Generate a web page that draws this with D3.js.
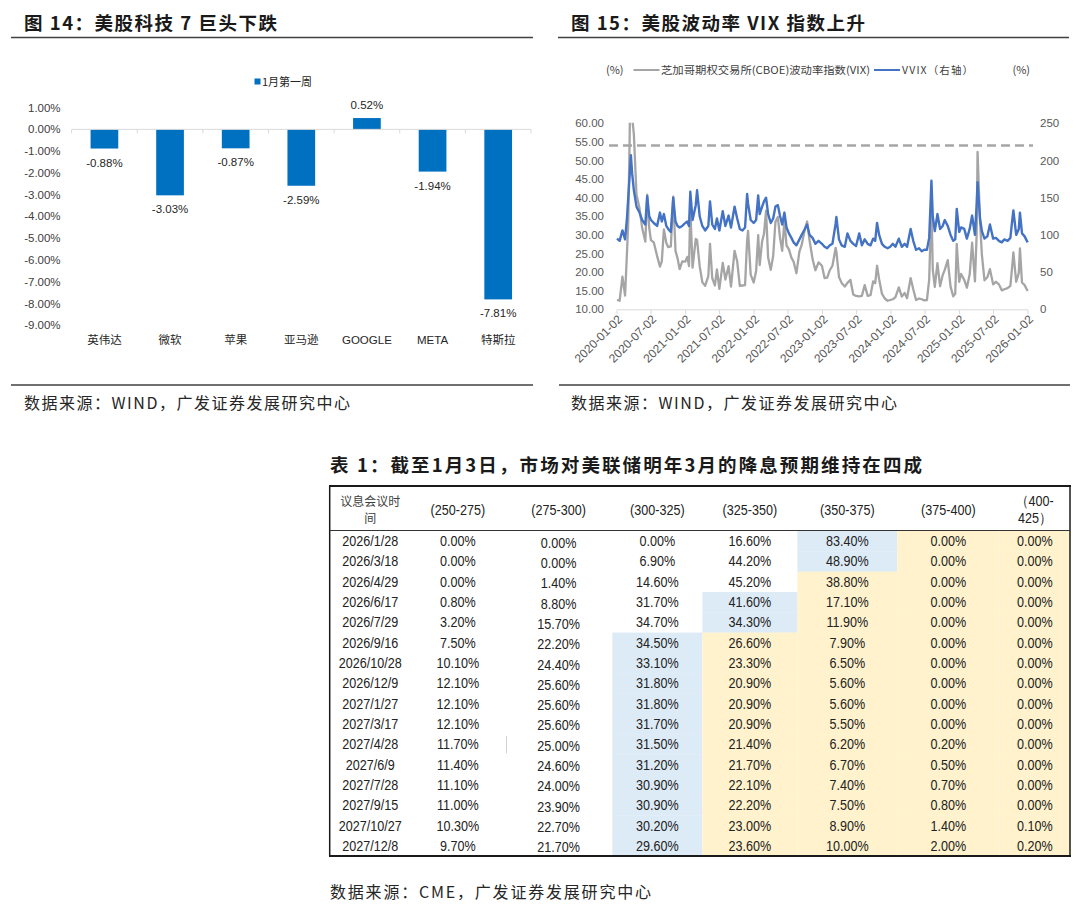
<!DOCTYPE html>
<html><head><meta charset="utf-8">
<script src="https://cdn.jsdelivr.net/npm/d3@7"></script>
<style>html,body{margin:0;padding:0;background:#fff}svg{display:block}</style>
</head><body>
<svg id="c" width="1080" height="922"></svg>
<script>
// ---------------- DATA ----------------
// Figure 14
const barCategories = ["英伟达","微软","苹果","亚马逊","GOOGLE","META","特斯拉"];
const barValues = [-0.88,-3.03,-0.87,-2.59,0.52,-1.94,-7.81];
const barSeriesName = "1月第一周";
const barTicks = [1,0,-1,-2,-3,-4,-5,-6,-7,-8,-9];

// Figure 15
const vixDates = [
"2020-01-02","2020-01-16","2020-01-31","2020-02-14","2020-02-24","2020-03-02","2020-03-09","2020-03-16","2020-03-23","2020-04-01","2020-04-15","2020-05-01","2020-05-15","2020-06-01","2020-06-11","2020-06-22","2020-07-01","2020-07-16","2020-08-03","2020-08-18","2020-08-28","2020-09-08","2020-09-21","2020-10-01","2020-10-15","2020-10-28","2020-11-09","2020-11-20","2020-12-01","2020-12-15","2020-12-31",
"2021-01-11","2021-01-20","2021-01-27","2021-02-08","2021-02-25","2021-03-04","2021-03-18","2021-04-01","2021-04-16","2021-05-03","2021-05-12","2021-05-24","2021-06-07","2021-06-18","2021-07-01","2021-07-19","2021-08-02","2021-08-19","2021-09-01","2021-09-20","2021-10-04","2021-10-18","2021-11-01","2021-11-15","2021-11-26","2021-12-01","2021-12-15","2021-12-31",
"2022-01-13","2022-01-24","2022-02-01","2022-02-14","2022-02-24","2022-03-07","2022-03-18","2022-04-01","2022-04-14","2022-04-26","2022-05-09","2022-05-20","2022-06-01","2022-06-13","2022-06-24","2022-07-07","2022-07-20","2022-08-01","2022-08-16","2022-09-01","2022-09-13","2022-09-30","2022-10-12","2022-10-25","2022-11-10","2022-11-25","2022-12-12","2022-12-30",
"2023-01-13","2023-01-27","2023-02-10","2023-02-24","2023-03-13","2023-03-17","2023-03-31","2023-04-14","2023-05-01","2023-05-15","2023-05-31","2023-06-15","2023-06-30","2023-07-17","2023-07-31","2023-08-15","2023-08-31","2023-09-15","2023-09-29","2023-10-10","2023-10-20","2023-10-31","2023-11-15","2023-11-30","2023-12-15","2023-12-29",
"2024-01-12","2024-01-26","2024-02-13","2024-02-29","2024-03-15","2024-03-28","2024-04-16","2024-04-30","2024-05-15","2024-05-31","2024-06-14","2024-06-28","2024-07-12","2024-07-24","2024-08-05","2024-08-12","2024-08-23","2024-09-06","2024-09-20","2024-10-04","2024-10-15","2024-10-31","2024-11-15","2024-11-29","2024-12-10","2024-12-18","2024-12-31",
"2025-01-10","2025-01-27","2025-02-10","2025-02-25","2025-03-10","2025-03-25","2025-04-03","2025-04-08","2025-04-21","2025-05-01","2025-05-15","2025-05-30","2025-06-13","2025-06-30","2025-07-15","2025-07-31","2025-08-15","2025-08-29","2025-09-15","2025-09-30","2025-10-10","2025-10-16","2025-10-31","2025-11-14","2025-11-20","2025-12-01","2025-12-15","2025-12-31"
];
const vixValues = [
12.5,12.3,18.8,13.7,25.0,33.4,54.5,82.7,61.6,57.0,40.8,37.2,31.9,28.2,40.8,31.8,28.6,28.0,24.3,21.5,22.9,31.5,27.8,26.7,26.9,40.3,25.7,23.7,20.8,22.9,22.8,
24.1,21.6,37.2,21.2,28.9,28.6,21.6,17.3,16.3,18.9,27.6,18.4,16.4,20.7,15.5,22.5,18.0,21.6,16.1,25.7,22.9,16.3,16.4,16.5,28.6,31.1,19.3,17.2,
20.3,29.9,21.9,28.3,30.3,36.5,23.9,20.6,24.4,33.5,34.8,29.4,25.7,34.0,27.2,26.1,23.9,22.8,19.7,25.6,27.3,31.6,33.6,28.5,23.5,20.5,22.6,21.7,
18.4,18.5,20.5,21.7,26.5,25.5,18.7,17.1,16.1,17.1,17.9,14.0,13.6,13.5,13.6,16.5,13.6,13.8,17.5,17.0,21.7,18.1,14.2,12.9,12.3,12.5,
12.7,13.3,15.9,13.4,14.4,13.0,18.4,15.4,12.5,12.9,12.7,12.4,12.5,18.0,38.6,20.7,16.0,22.4,16.2,19.2,20.6,23.2,16.1,13.5,14.2,27.6,17.4,
19.5,17.9,15.8,19.4,27.9,17.5,30.0,52.3,33.8,24.7,17.8,18.6,20.8,16.7,17.4,16.7,15.1,15.4,15.7,16.3,21.7,25.3,17.4,19.8,26.4,17.2,16.5,14.9
];
const vvixValues = [
95,92,106,94,122,150,178,207,182,160,138,130,120,114,152,125,120,116,112,130,118,128,112,108,104,150,118,112,110,112,116,
118,112,158,120,140,160,125,112,106,112,145,114,108,122,106,132,112,126,110,138,122,108,106,110,155,142,120,116,
120,153,128,138,145,150,128,116,122,138,140,126,114,130,110,102,96,90,86,94,100,108,114,100,96,88,92,88,
84,82,86,88,115,124,94,86,84,102,92,88,85,102,86,94,88,86,95,92,116,100,88,84,82,84,
88,84,95,84,88,84,108,92,80,82,78,80,80,96,173,125,105,128,108,112,120,112,100,92,94,135,104,
110,108,95,108,126,100,140,171,122,105,95,98,114,95,96,92,90,94,92,96,120,133,100,108,130,102,98,90
];
const vixTickDates = ["2020-01-02","2020-07-02","2021-01-02","2021-07-02","2022-01-02","2022-07-02","2023-01-02","2023-07-02","2024-01-02","2024-07-02","2025-01-02","2025-07-02","2026-01-02"];
const vixLeftTicks = [10,15,20,25,30,35,40,45,50,55,60];
const vvixRightTicks = [0,50,100,150,200,250];
const vvixRefLevel = 220;
const vixSeriesName = "芝加哥期权交易所(CBOE)波动率指数(VIX)";
const vvixSeriesName = "VVIX（右轴）";

// Table 1
const meetingDates = ["2026/1/28","2026/3/18","2026/4/29","2026/6/17","2026/7/29","2026/9/16","2026/10/28","2026/12/9","2027/1/27","2027/3/17","2027/4/28","2027/6/9","2027/7/28","2027/9/15","2027/10/27","2027/12/8"];
const rateBuckets = ["(250-275)","(275-300)","(300-325)","(325-350)","(350-375)","(375-400)","（400-425）"];
const cutProbabilities = [
[0.00,0.00,0.00,16.60,83.40,0.00,0.00],
[0.00,0.00,6.90,44.20,48.90,0.00,0.00],
[0.00,1.40,14.60,45.20,38.80,0.00,0.00],
[0.80,8.80,31.70,41.60,17.10,0.00,0.00],
[3.20,15.70,34.70,34.30,11.90,0.00,0.00],
[7.50,22.20,34.50,26.60,7.90,0.00,0.00],
[10.10,24.40,33.10,23.30,6.50,0.00,0.00],
[12.10,25.60,31.80,20.90,5.60,0.00,0.00],
[12.10,25.60,31.80,20.90,5.60,0.00,0.00],
[12.10,25.60,31.70,20.90,5.50,0.00,0.00],
[11.70,25.00,31.50,21.40,6.20,0.20,0.00],
[11.40,24.60,31.20,21.70,6.70,0.50,0.00],
[11.10,24.00,30.90,22.10,7.40,0.70,0.00],
[11.00,23.90,30.90,22.20,7.50,0.80,0.00],
[10.30,22.70,30.20,23.00,8.90,1.40,0.10],
[9.70,21.70,29.60,23.60,10.00,2.00,0.20]
];
const blueBucket = [4,4,-1,3,3,2,2,2,2,2,2,2,2,2,2,2];
const firstYellowBucket = [5,5,4,4,4,3,3,3,3,3,3,3,3,3,3,3];
const tableHeadFirst = "议息会议时间";

// ---------------- DRAWING ----------------
const svg = d3.select("#c");
svg.append("rect").attr("width",1080).attr("height",922).attr("fill","#fff");
const CJK = "'Noto Sans CJK SC','Noto Sans CJK JP',sans-serif";
const LAT = "'Liberation Sans',Arial,'Noto Sans',sans-serif";
const loc = d3.formatLocale({decimal:".",thousands:",",grouping:[3],currency:["",""],minus:"-"});
const f2 = loc.format(".2f");

function bigTitle(x,y,text,len,size){
  svg.append("text").attr("x",x).attr("y",y).attr("font-family",CJK).attr("font-weight",700)
    .attr("font-size",size).attr("fill","#1a1a1a").attr("textLength",len).attr("lengthAdjust","spacing").text(text);
}
function hline(x1,x2,y,w,c){
  svg.append("line").attr("x1",x1).attr("x2",x2).attr("y1",y).attr("y2",y).attr("stroke",c).attr("stroke-width",w);
}
function footer(x,y,text,len){
  svg.append("text").attr("x",x).attr("y",y).attr("font-family",CJK).attr("font-size",16)
    .attr("fill","#262626").attr("textLength",len).attr("lengthAdjust","spacing").text(text);
}
// condensed table text (narrow look via horizontal scale)
function narrowText(g,x,y,text,size){
  g.append("text").attr("transform",`translate(${x},${y}) scale(0.84,1)`).attr("text-anchor","middle")
    .attr("font-family",LAT).attr("font-size",size).attr("fill","#222").text(text);
}

// ===== Figure 14 =====
bigTitle(24,30,"图 14：美股科技 7 巨头下跌",253,18.5);
hline(11,533,37.5,1.5,"#404040");
hline(11,533,385,1.5,"#404040");
footer(24,409,"数据来源：WIND，广发证券发展研究中心",326);

const bx = d3.scaleBand().domain(barCategories).range([71.6,531]).paddingInner(0.578).paddingOuter(0.289);
const by = d3.scaleLinear().domain([-9,1]).range([325.3,107.6]);
const g14 = svg.append("g");
g14.append("rect").attr("x",254.5).attr("y",78.5).attr("width",6).attr("height",6).attr("fill","#0070c0");
g14.append("text").attr("x",262).attr("y",85.5).attr("font-family",CJK).attr("font-size",11).attr("fill","#262626").text(barSeriesName);
g14.selectAll(".yl").data(barTicks).join("text")
  .attr("x",60.6).attr("y",d=>by(d)+4).attr("text-anchor","end")
  .attr("font-family",LAT).attr("font-size",11.5).attr("fill","#404040").text(d=>f2(d)+"%");
g14.selectAll(".bar").data(barValues).join("rect")
  .attr("x",(d,i)=>bx(barCategories[i])).attr("width",bx.bandwidth())
  .attr("y",d=>by(Math.max(0,d))).attr("height",d=>Math.abs(by(d)-by(0)))
  .attr("fill","#0070c0");
hline(71.6,531,by(0),1,"#d9d9d9");
d3.range(barCategories.length+1).forEach(i=>{
  const x = bx.range()[0]+i*bx.step();
  g14.append("line").attr("x1",x).attr("x2",x).attr("y1",by(0)).attr("y2",by(0)+4).attr("stroke","#d9d9d9");
});
g14.selectAll(".vl").data(barValues).join("text")
  .attr("x",(d,i)=>bx(barCategories[i])+bx.bandwidth()/2)
  .attr("y",d=>d<0?by(d)+18:by(d)-9).attr("text-anchor","middle")
  .attr("font-family",LAT).attr("font-size",11.5).attr("fill","#262626").text(d=>f2(d)+"%");
g14.selectAll(".cl").data(barCategories).join("text")
  .attr("x",d=>bx(d)+bx.bandwidth()/2).attr("y",343.5).attr("text-anchor","middle")
  .attr("font-family",d=>/^[A-Z]/.test(d)?LAT:CJK).attr("font-size",11.5).attr("fill","#262626").text(d=>d);

// ===== Figure 15 =====
bigTitle(571,30,"图 15：美股波动率 VIX 指数上升",294,18.5);
hline(558,1069,37.5,1.5,"#404040");
hline(559,1070,385,1.5,"#404040");
footer(571,409,"数据来源：WIND，广发证券发展研究中心",326);

const parse = d3.utcParse("%Y-%m-%d");
const xT = d3.scaleUtc().domain([parse(vixTickDates[0]),parse(vixTickDates[vixTickDates.length-1])]).range([617,1028]);
const yL = d3.scaleLinear().domain([10,60]).range([309.3,123.3]);
const yR = d3.scaleLinear().domain([0,250]).range([309.3,123.3]);
const g15 = svg.append("g");
const lgY = 70;
g15.append("text").attr("x",606).attr("y",lgY+4).attr("font-family",CJK).attr("font-size",11).attr("fill","#404040").text("(%)");
g15.append("line").attr("x1",633.5).attr("x2",659.5).attr("y1",lgY).attr("y2",lgY).attr("stroke","#a5a5a5").attr("stroke-width",2);
g15.append("text").attr("x",661).attr("y",lgY+4).attr("font-family",CJK).attr("font-size",10.5).attr("fill","#404040")
  .attr("textLength",209).attr("lengthAdjust","spacingAndGlyphs").text(vixSeriesName);
g15.append("line").attr("x1",874).attr("x2",900).attr("y1",lgY).attr("y2",lgY).attr("stroke","#4472c4").attr("stroke-width",2);
g15.append("text").attr("x",902).attr("y",lgY+4).attr("font-family",CJK).attr("font-size",10.5).attr("fill","#404040")
  .attr("textLength",71).attr("lengthAdjust","spacing").text(vvixSeriesName);
g15.append("text").attr("x",1012.5).attr("y",lgY+4).attr("font-family",CJK).attr("font-size",11).attr("fill","#404040").text("(%)");
g15.selectAll(".ll").data(vixLeftTicks).join("text").attr("x",604).attr("y",d=>yL(d)+4).attr("text-anchor","end")
  .attr("font-family",LAT).attr("font-size",11.5).attr("fill","#595959").text(d=>f2(d));
g15.selectAll(".rl").data(vvixRightTicks).join("text").attr("x",1040).attr("y",d=>yR(d)+4)
  .attr("font-family",LAT).attr("font-size",11.5).attr("fill","#595959").text(d=>d);
g15.append("line").attr("x1",xT.range()[0]-8).attr("x2",xT.range()[1]+5).attr("y1",yR(vvixRefLevel)).attr("y2",yR(vvixRefLevel))
  .attr("stroke","#a6a6a6").attr("stroke-width",2.5).attr("stroke-dasharray","9,5");
svg.append("defs").append("clipPath").attr("id","pc").append("rect")
  .attr("x",xT.range()[0]-2).attr("y",yL(60)-0.5).attr("width",xT.range()[1]-xT.range()[0]+4).attr("height",yL(10)-yL(60)+1);
const pts = vixDates.map((d,i)=>({t:parse(d),v:vixValues[i],w:vvixValues[i]}));
g15.append("path").datum(pts).attr("clip-path","url(#pc)").attr("fill","none").attr("stroke","#a5a5a5").attr("stroke-width",2.3)
  .attr("stroke-linejoin","round").attr("d",d3.line().x(d=>xT(d.t)).y(d=>yL(d.v)));
g15.append("path").datum(pts).attr("clip-path","url(#pc)").attr("fill","none").attr("stroke","#4472c4").attr("stroke-width",2.4)
  .attr("stroke-linejoin","round").attr("d",d3.line().x(d=>xT(d.t)).y(d=>yR(d.w)));
hline(xT.range()[0],xT.range()[1],309.8,1,"#d9d9d9");
vixTickDates.forEach(s=>{
  const x = xT(parse(s));
  g15.append("line").attr("x1",x).attr("x2",x).attr("y1",309.8).attr("y2",314).attr("stroke","#d9d9d9");
  g15.append("text").attr("transform",`translate(${x+3},${317}) rotate(-45)`).attr("text-anchor","end")
    .attr("dy","0.35em").attr("font-family",LAT).attr("font-size",12).attr("fill","#595959").text(s);
});

// ===== Table 1 =====
bigTitle(330,472,"表 1：截至1月3日，市场对美联储明年3月的降息预期维持在四成",592,18.5);
const columns = [tableHeadFirst].concat(rateBuckets);
const colLeft = d3.scaleOrdinal().domain(columns).range([329.7,410.6,505,612.3,702.4,797.4,897.2,999.6]);
const tableRight = 1070;
const colRight = c => { const i = columns.indexOf(c); return i < columns.length-1 ? colLeft(columns[i+1]) : tableRight; };
const colMid = c => (colLeft(c)+colRight(c))/2;
const rowY = d3.scaleBand().domain(meetingDates).range([531,856]);
const gt = svg.append("g");
meetingDates.forEach((m,r)=>{
  rateBuckets.forEach((b,c)=>{
    let fill = null;
    if (c===blueBucket[r]) fill = "#ddebf7";
    else if (firstYellowBucket[r]>=0 && c>=firstYellowBucket[r]) fill = "#fff2cc";
    if (fill) gt.append("rect").attr("x",colLeft(b)).attr("y",rowY(m)).attr("width",colRight(b)-colLeft(b)).attr("height",rowY.bandwidth()+0.3).attr("fill",fill);
  });
});
gt.append("text").attr("x",colMid(tableHeadFirst)).attr("y",506).attr("text-anchor","middle").attr("font-family",CJK).attr("font-size",12).attr("fill","#404040").text(tableHeadFirst.slice(0,5));
gt.append("text").attr("x",colMid(tableHeadFirst)).attr("y",523).attr("text-anchor","middle").attr("font-family",CJK).attr("font-size",12).attr("fill","#404040").text(tableHeadFirst.slice(5));
rateBuckets.forEach(b=>{
  if (b.startsWith("（")) {
    const k = b.indexOf("-")+1;
    narrowText(gt,colMid(b),506,b.slice(0,k),15);
    narrowText(gt,colMid(b),523,b.slice(k),15);
  } else {
    narrowText(gt,colMid(b),515,b,15);
  }
});
meetingDates.forEach((m,r)=>{
  const cy = rowY(m)+rowY.bandwidth()/2;
  narrowText(gt,colMid(tableHeadFirst),cy+5,m,15);
  rateBuckets.forEach((b,c)=>{
    narrowText(gt,colMid(b),cy+5+(c===1?1.5:0),f2(cutProbabilities[r][c])+"%",15);
  });
});
gt.append("line").attr("x1",colRight(rateBuckets[0])+1.5).attr("x2",colRight(rateBuckets[0])+1.5).attr("y1",rowY(meetingDates[10])+2).attr("y2",rowY(meetingDates[10])+rowY.bandwidth()-1).attr("stroke","#c8c8c8").attr("stroke-width",0.8);
hline(329,1071,486,2,"#1a1a1a");
hline(329.7,1070,530.5,1,"#333");
hline(329,1071,856,2,"#1a1a1a");
gt.append("line").attr("x1",329.7).attr("x2",329.7).attr("y1",486).attr("y2",856).attr("stroke","#1a1a1a").attr("stroke-width",1.5);
gt.append("line").attr("x1",1070).attr("x2",1070).attr("y1",486).attr("y2",856).attr("stroke","#1a1a1a").attr("stroke-width",1.5);
footer(330,898,"数据来源：CME，广发证券发展研究中心",321);
</script>
</body></html>
